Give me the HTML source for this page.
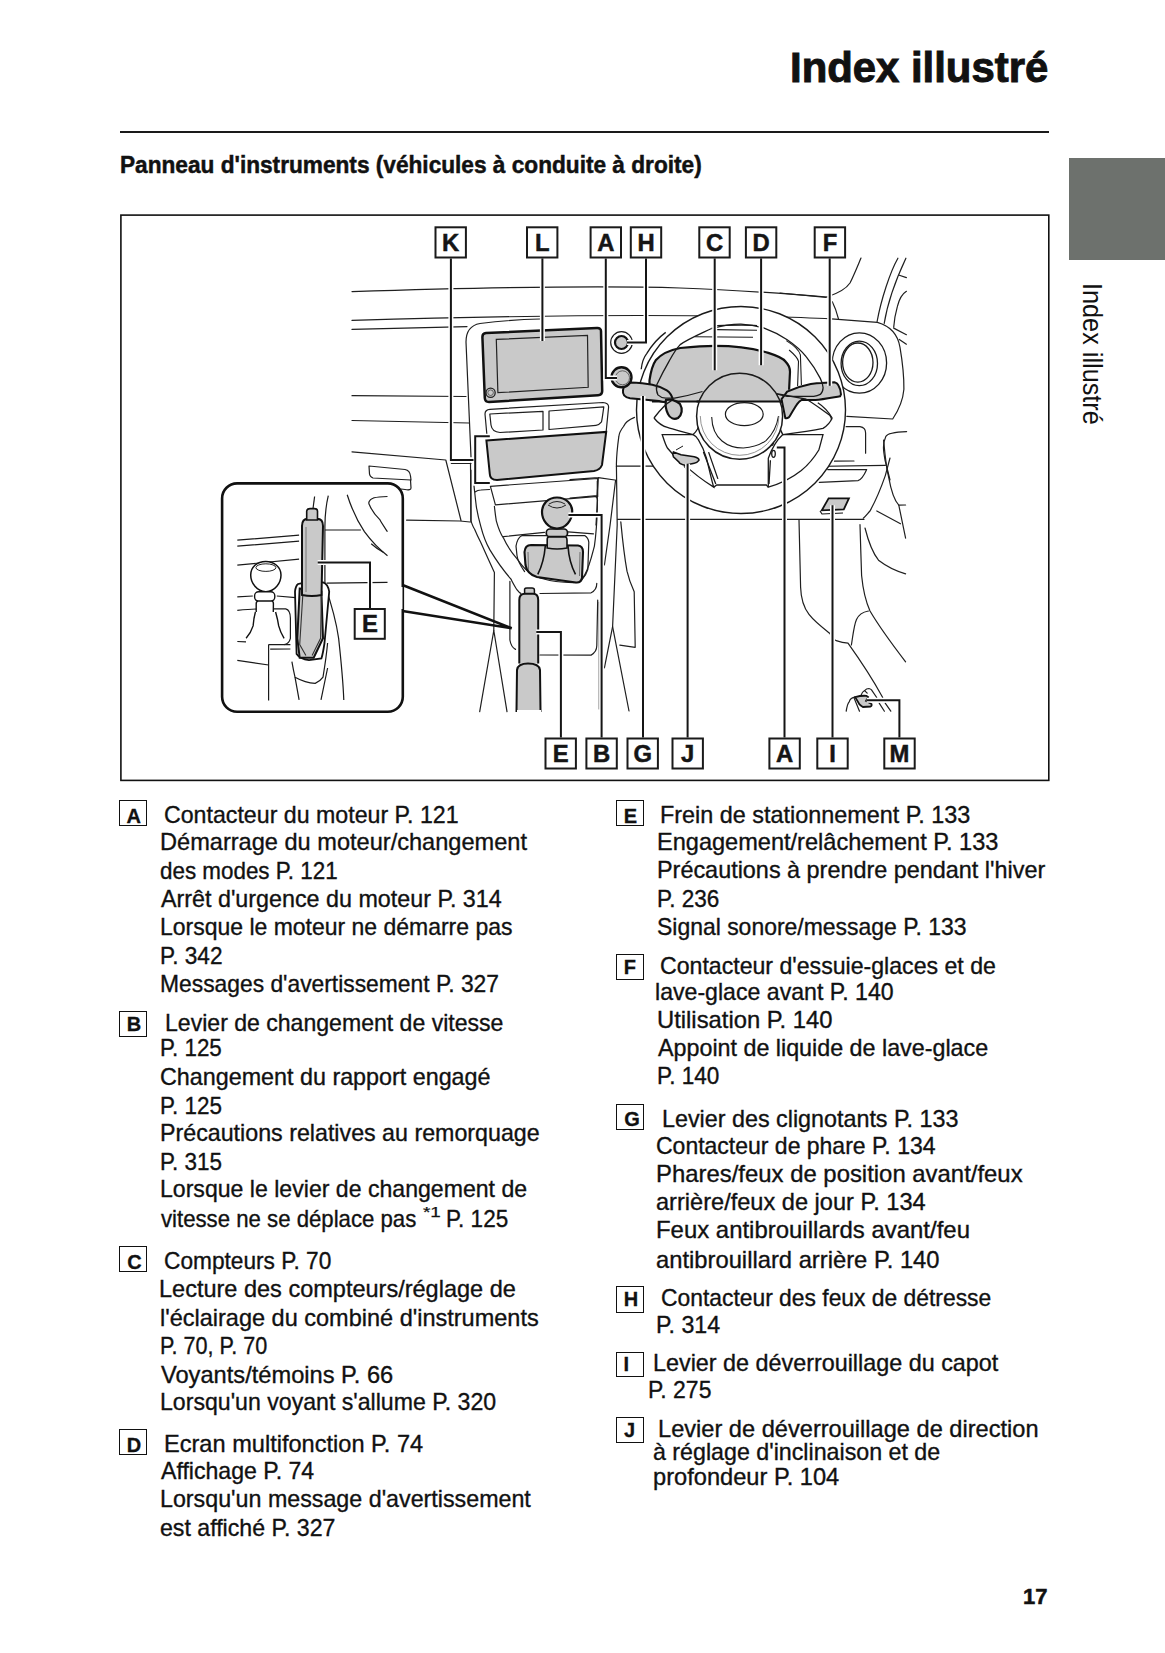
<!DOCTYPE html>
<html><head><meta charset="utf-8">
<style>
html,body{margin:0;padding:0;background:#fff;}
body{width:1165px;height:1653px;position:relative;overflow:hidden;font-family:"Liberation Sans",sans-serif;color:#111;}
.t{position:absolute;white-space:nowrap;transform-origin:0 0;}
.bx{position:absolute;border:1.5px solid #111;box-sizing:border-box;}
.bl{position:absolute;font-weight:bold;font-size:20px;line-height:20px;color:#111;white-space:nowrap;-webkit-text-stroke:0.3px #111;}
.rule{position:absolute;left:120px;top:131px;width:929px;height:2px;background:#1a1a1a;}
.tab{position:absolute;left:1069px;top:157.5px;width:96px;height:102.5px;background:#6d716d;}
</style></head><body>
<div class="rule"></div>
<div class="tab"></div>
<svg width="1165" height="1653" style="position:absolute;left:0;top:0">
<style>.lb{font-family:"Liberation Sans",sans-serif;font-weight:bold;font-size:23.8px;text-anchor:middle;fill:#151515;stroke:#151515;stroke-width:0.5px}</style>
<rect x="120.9" y="215.1" width="927.9" height="565.3" fill="none" stroke="#111" stroke-width="1.6"/>
<g fill="none" stroke="#1f1f1f" stroke-width="1.2" stroke-linecap="round" stroke-linejoin="round">
<path d="M352,291.6 C450,288.5 600,285.5 680,288 C740,290 790,294 827,297"/>
<path d="M827,297 C836,294 846,289 850,283 C854,275 858,265 861,258"/>
<path d="M352,320.4 C470,317 560,315.5 640,315.5 C720,315.5 790,316.5 832,319"/>
<path d="M352,329.4 L467,326.6"/>
<path d="M352,395.7 L466,396.5"/>
<path d="M352,420.5 L469,423"/>
<path d="M352,451.8 L445.8,460 L461,520.5"/>
<path d="M451.3,463.5 L471,463.5"/>
<path d="M406.6,520.2 L460,521 L470,522"/>
<path d="M471,457 L466,342 Q466,326 480,323.5 C500,321 520,319.5 540,319"/>
<path d="M470.5,463 L471,522"/>
<path d="M369,466 L405,469.5 Q410,470.5 410.5,476 L411,480 L373,478 Q370,477 369.5,474 Z"/>
<path d="M410.5,480 L411,488 Q411,490.5 405,489.5 L401,489"/>
<path d="M487,436 L485,414 Q485,409.6 490,409.3 L603,402.5 Q608.6,402.9 608.6,407 L606.2,431.2"/>
<path d="M489.8,414 L543,411.3 L543,430 L500,432.5 Q492,432 491,425 Z"/>
<path d="M549,411 L603.8,406.8 Q602,420 601.5,421.8 Q599,425 596,425.3 L549,429.5 Z"/>
<path d="M490.4,486.3 L597.7,478.5 L597.7,496.4 L495.4,504.9 Z"/>
<path d="M475.4,491.8 C477,490.5 479,490 480.8,490 L489.5,489.5"/>
<path d="M474,485.9 C475,495 475.5,500 476.3,506.3 C477.5,514 479,520 480.8,526.3 C483,535 486,543 489.9,549.9 C496,560 503,570 510.8,578.9 C513,583 515,587 517.1,589.8 C518,591 519,592.5 520.8,593.4"/>
<path d="M540,593.5 L591.1,592.8 Q596.8,590 596.8,583.3"/>
<path d="M470.9,470 L470.9,520.8 C472,524 473,527 474.5,529 C477,535 479,539 480.8,542.6 C485,552 490,563 494.4,572.5 L493.8,630.5"/>
<path d="M494.4,506.3 C495,512 495.5,516 496.3,520.8 C498,527 500,533 503.5,538.1 C507,546 512,553 517.1,558.9 C520,563 523,567 526.2,569.8 C530,573 535,576 540,578 C550,581 565,583 578.4,582.5 C581,581 583,578 585,574.4 C590,565 592,555 594.4,546.1 C596,535 597,520 597.3,508.3 L597.3,481"/>
<path d="M503.5,536.7 L544.4,532.4 M568,531.9 L593.5,533.8"/>
<path d="M524.6,571.6 C520,565 517.5,560 517,555.5 L516,546.1 C517,540 519,537 521.7,535.7 L585,535.7 C587,537 588.5,539 588.8,542.3 L587.8,569.7 C586.5,574 584.5,577 582.2,579.2"/>
<path d="M509.9,581.4 L509.9,640 Q511,647 515.5,649.4 M540,655 L591.1,655.1 Q596.8,652 596.8,645.6 L597.7,600"/>
<path d="M479.7,711.7 L493.8,630.5 L507,711.7"/>
<path d="M598.3,477.6 L614.8,480 M570,479.6 L598.3,477.6 L597.1,495.7 L570,498 M595.2,496.1 Q597.5,497 597.5,500 L596,525"/>
<path d="M634.5,417.4 C628,420 625,423 623.5,426.5 C620,431 619,434 618.8,436.7 C617,450 616.5,458 616.4,464.2 L617.2,525 L612.6,626.7 L604.4,667.8"/>
<path d="M615.6,480 L610.1,525 L604.4,565"/>
<path d="M612.6,626.7 L629,711"/>
<path d="M616.4,466.2 H653.7"/>
<path d="M617.5,519.3 H864"/>
<path d="M620.8,521.9 C623,545 625,560 627,571.2 C629,580 632,587 634.2,591.8 L635.2,647.3 L619.8,645.2"/>
<path d="M599.3,602 L599.3,709"/>
<path d="M826,297.3 L780,293"/>
<path d="M831.5,318.9 L877.4,322.4 C890,326 898,335 900,347.4 C903,365 904,380 903.9,389.2 C903,400 900,408 892.7,419 L846.8,416.3"/>
<path d="M897.9,258.2 C890,272 881,300 877.1,321.5 M905.9,258.2 C898,275 888,300 884.2,323.4 M906.4,291.3 C902,294 899,300 897.4,306.4 C895,315 894,322 893.7,327.2"/>
<path d="M899.3,275.2 L906.4,277.6"/>
<path d="M832.3,301.7 C835,307 837,313 838.4,318.7"/>
<path d="M893.7,328.1 L906.4,334.7 M899.3,339.4 L906.4,344.2"/>
<path d="M906.6,431.6 C895,432 887,434 885.8,436.5 C882,445 883.7,451.8 885,460 L890,480"/>
<path d="M777,467 L885.3,465.4"/>
<path d="M834.5,461.2 L854,461"/>
<path d="M846.1,426.7 L860,426.7 Q865.6,427.5 865.6,433 L865.6,453.2"/>
<path d="M827.7,469.6 L866.7,469.6 Q862,480 858,480.6 L819.3,482.3"/>
<path d="M863.3,518.2 C866,516 868,513 870,511 C876,500 881,488 885.3,475.6 L890,458"/>
<path d="M799,520 C799.5,545 800,570 800.6,587.3 C801,600 804,608 809,614.4 C815,622 823,628 829.4,633 C832,637 834,640 836.2,640.6 C840,642 844,643 848,643.2 C860,660 872,678 882.7,697.5"/>
<path d="M860,524.7 C860.5,540 861,560 861.6,575.5 C863,590 866,602 870,611 C880,628 895,648 905.6,661.8"/>
<path d="M865,528 C868,540 872,552 878.5,560.2 C886,566 896,571 905.6,573.8"/>
<path d="M851.4,645 C853,635 854,625 856.5,619.5 C859,614 863,612 868.4,611"/>
<path d="M883.6,440 C885,455 886,467 888.7,477.3 C891,490 894,500 898.8,505.2 L905.6,505"/>
<path d="M876.8,511 L900.5,523.8"/>
<path d="M898.8,505.2 L905.6,538.2"/>
<path d="M846.2,711.2 C847,706 848,703 849.2,701.8 C850,699 851,697.5 855.2,697.1 M854.3,698.4 L859.5,711.2"/>
<path d="M861.2,694.9 C862,692.5 863,691.5 864.6,690.6 C866,689 867.5,688.5 868.9,688.5 C870,688.8 871,689.2 871.5,689.8 L876.7,697.5 M864.6,690.6 L867.2,693.2"/>
<path d="M879.2,703.1 L884.4,711.2 M885.2,703.1 L890.8,711.2"/>
</g>

<!-- vent rings (behind wheel) -->
<g fill="none" stroke="#1a1a1a" stroke-width="1.3">
<ellipse cx="859.4" cy="363" rx="27.2" ry="30.2"/>
<ellipse cx="859.3" cy="363.4" rx="18.2" ry="22.3"/>
<ellipse cx="857.8" cy="362.6" rx="15.2" ry="19.6"/>
<path d="M641.2,369.2 C642,362 644,357 646.7,353.6 C652,345 658,338 665.7,332.4"/>
</g>
<!-- wheel outer rim band: white -->
<ellipse cx="741" cy="410" rx="104.5" ry="103.5" fill="#fff" stroke="#1a1a1a" stroke-width="1.4"/>
<!-- hood lines -->
<g fill="none" stroke="#1a1a1a" stroke-width="1.1">
<path d="M717,325.5 C735,325 750,325 757,325.5"/>
<path d="M717,329.6 L757,330.2"/>
<path d="M694.7,336.8 L753,337.3"/>
<path d="M789.1,350 C795,355 798,359 798.5,361.4 L797.6,385.9"/>
<path d="M786.3,340.6 C795,346 799,350 800.4,354.8 L801.4,385"/>
</g>
<!-- gauge gray -->
<path d="M649.5,401.5 L649.5,380.4 C651,370 653,364 655.7,360.3 C662,353 670,350 680.2,348 C695,346.5 705,345.8 714.8,345.8 C735,345.8 750,347 768.3,352.9 C778,356 783,358 785.3,361.4 C789,365 790,368 790,371.8 L789.1,389.7 L788.2,401.5 Z" fill="#c9c9c9" stroke="none"/>
<path d="M649.5,388 L649.5,380.4 C651,370 653,364 655.7,360.3 C662,353 670,350 680.2,348 C695,346.5 705,345.8 714.8,345.8 C735,345.8 750,347 768.3,352.9 C778,356 783,358 785.3,361.4 C789,365 790,368 790,371.8 L789.1,389.7" fill="none" stroke="#111" stroke-width="2.2"/>
<path d="M652,401.5 L790,401.5" stroke="#111" stroke-width="2.2"/>
<!-- stalks -->
<path d="M630,382.6 C640,383 648,384 652.3,384.8 C658,386 663,388 666.8,390.4 C670,392.5 672,396 673,400 L664,402 C662,401.5 660,401.2 659,401 L630,398.2 Q622,397 623,390 Q624,383 630,382.6 Z" fill="#c9c9c9" stroke="#111" stroke-width="2"/>
<path d="M666,400 C670,399 676,400 680,404 C683,409 682,415 678,418 C674,420 670,418 668,414 C666,410 665,405 666,400 Z" fill="#c9c9c9" stroke="#111" stroke-width="2.2"/>
<path d="M787.2,391.6 C795,388 803,385.5 810.8,384 C815,383.5 818,383.2 821.2,383.1 L834.4,382.2 C836,382.5 837.5,383.5 838.2,385 C840,388 841,391 841,394.4 L840.1,396.3 C830,398 822,399.5 815.5,400.1 L801.4,400.1 C799,401 798,403 796.7,404.8 C794,409 791,414 789.1,417.1 C787,418.5 786,418.3 785.3,418 L781.5,399.2 Z" fill="#c9c9c9" stroke="#111" stroke-width="2"/>
<!-- wheel inner rim lines -->
<g fill="none" stroke="#1a1a1a" stroke-width="1.3">
<path d="M711.5,328.5 C700,334 688,339 680.2,344.6 C675,350 672,356 669,361.4 C664,370 660,378 656.8,384.8 C656,389 656.5,392 657.9,394.9 C660,397 663,398 665.7,398.2 L674.6,398.2 C684,396.5 694,394 702.5,391.5"/>
<path d="M711.5,328.5 C725,325 735,324 741,324.1 C750,324.5 757,326 763.6,327.9 C772,331 780,335 787.2,339.7 C795,345 801,350 806.1,356.7 C812,364 817,372 820.3,378.4 C822,382 823,385 823.1,387.8 C823,391 822,393 820.3,394.4 C818,395.5 816,396 813.7,396.3 L787.2,396.3 C782,395.5 778,394.5 775,393.5"/>
<path d="M775,393.5 C790,396 800,398 806.1,399.2 C815,404 822,410 829.7,415.2 C831,417 831.5,418 831.6,420"/>
<path d="M654,418 C660,410 665,404 671.5,400.6"/>
<path d="M654,418 C658,423 662,426 667.4,427.4 C676,430 685,433 693.1,434.6 C697,431 699,427 699.3,423.3 L699.3,404.7 C700,400 702,395 704.5,392.4"/>
<path d="M832.2,418 C828,411 823,406 817.8,402.7"/>
<path d="M832.2,418 C830,423 827,426 823,428.4 C810,431 795,433 782.8,434.6 C780,430 779,426 778.6,421.2"/>
<path d="M662.2,434.6 C664,440 665.5,445 667.4,448 C672,454 676,458 681.8,462.4 C692,472 702,480 713.7,487.1 C711,478 709,468 706.5,458.3 C704,450 701,444 698.3,439.7 C697,437 695,435.5 693.1,434.6 Z"/>
<path d="M823,434.6 C821.5,440 820,446 818.8,450 C814,458 808,465 801.3,470.6 C792,478 780,484 768.3,487.1 L768.3,458.3 C772,448 777,440 782.8,434.6 Z"/>
<path d="M713.7,487.1 L716.8,485 L766.3,485 L768.3,487.1"/>
<path d="M703.4,452.1 L715.8,484 M708.6,452.1 L717.9,478.9 M770.4,460.3 L769,484"/>
<ellipse cx="771.6" cy="440.6" rx="2" ry="5"/>
<ellipse cx="773.5" cy="453.8" rx="1.8" ry="3.5"/>
</g>
<!-- hub -->
<circle cx="739.6" cy="416.2" r="43" fill="#fff" stroke="none"/>
<path d="M699.2,401.5 A43,43 0 0 1 780,401.5 Z" fill="#c9c9c9" stroke="none"/>
<path d="M696.6,401.5 L782.6,401.5" stroke="#111" stroke-width="2.2"/>
<circle cx="739.6" cy="416.2" r="43" fill="none" stroke="#1a1a1a" stroke-width="1.5"/>
<g fill="none" stroke="#1a1a1a" stroke-width="1.1">
<path d="M711.7,417 C712,428 716,436 722,441 C728,446 735,448 743.3,448 C752,447.5 760,445 766,440.6 C773,434 777,426 778.5,416"/>
<path d="M700.3,416 A39,39 0 0 0 778.9,416" stroke="#777" stroke-width="0.8"/>
</g>
<ellipse cx="744.3" cy="414.2" rx="18.9" ry="11.5" fill="none" stroke="#1a1a1a" stroke-width="1.2"/>
<!-- J lever -->
<path d="M673.4,451.9 L681,454.8 L694.2,456.7 Q699.5,458 698.9,460.4 Q697,463 694.2,463.3 L684.8,465.2 Q680,464 679.1,462.3 L673.4,456.7 Q672,454 673.4,451.9 Z" fill="#c9c9c9" stroke="#111" stroke-width="1.6"/>
<path d="M676,450 L683,446 M684,466 L690,476" fill="none" stroke="#1a1a1a" stroke-width="1"/>
<!-- hood release -->
<path d="M828.6,498.4 L848.9,498.4 L843.8,509.4 L821.8,510.3 Z" fill="#c9c9c9" stroke="#111" stroke-width="1.8"/>
<path d="M820,511 L822,514 L843,513" fill="none" stroke="#111" stroke-width="1.2"/>
<!-- M pedal -->
<path d="M855.2,697.1 C859,696 862,695.5 866.4,695.8 L868.1,697.1 L866,701 L871.5,704 Q872,706 870.6,706.5 L862.9,707 Q861,706 859.5,704.4 Z" fill="#c9c9c9" stroke="#111" stroke-width="1.8"/>
<!-- screen -->
<path d="M486,333 L597,328 Q601,327.8 601,331 L602.2,391 Q602.2,395 598,395.2 L489,402 Q485,402 484.8,398 L482.4,337 Q482.4,333.2 486,333 Z" fill="#c9c9c9" stroke="#111" stroke-width="2.5"/>
<path d="M496.3,339.4 L587.5,335.5 L588.2,387.3 L497.9,392.7 Z" fill="none" stroke="#222" stroke-width="1.2"/>
<circle cx="490.6" cy="392.7" r="4.6" fill="none" stroke="#222" stroke-width="1.3"/>
<circle cx="490.6" cy="392.7" r="2.8" fill="none" stroke="#444" stroke-width="0.8"/>
<!-- AC panel -->
<path d="M486.4,440.5 L606.2,431.9 L602,465 Q600,470 594,471 L497,480 Q490,480 489.8,474 Z" fill="#c9c9c9" stroke="#111" stroke-width="2"/>
<!-- buttons -->
<circle cx="621.5" cy="342.5" r="10.8" fill="#fff" stroke="#1a1a1a" stroke-width="1.2"/>
<circle cx="621.5" cy="342.5" r="6.5" fill="#c9c9c9" stroke="#111" stroke-width="2.2"/>
<circle cx="621.5" cy="377.3" r="10" fill="#c9c9c9" stroke="#111" stroke-width="2.4"/>
<circle cx="622.5" cy="377.8" r="7" fill="none" stroke="#555" stroke-width="0.9"/>
<!-- gear -->
<path d="M531,545 L578,545.5 Q583,546 583,552 L582,578 Q581,583 576,582.5 L537,577 Q527,574 525.5,565 L524.5,552 Q525,545 531,545 Z" fill="#c9c9c9" stroke="#111" stroke-width="2.1"/>
<path d="M528,552 L528.5,570 M580,552 L579.5,576" fill="none" stroke="#555" stroke-width="0.8"/>
<path d="M537.8,574.4 Q544,562 545.3,546 M575.5,574.4 Q569,562 568,546" fill="none" stroke="#111" stroke-width="1.6"/>
<path d="M547.2,548 L547.2,540 Q547,537 549,536.7 L565,536.7 Q567,537 567,540 L567,548 Q557,550 547.2,548 Z" fill="#c9c9c9" stroke="#111" stroke-width="1.6"/>
<rect x="546.3" y="529" width="21.2" height="7.7" rx="3.5" fill="#c9c9c9" stroke="#111" stroke-width="1.7"/>
<path d="M557,497.5 C566,497.5 572.5,504 572.2,512 C572,520 566,528.6 557,528.6 C548,528.6 542,520 542,512 C542,504 548,497.5 557,497.5 Z" fill="#c9c9c9" stroke="#111" stroke-width="2.2"/>
<path d="M548,505 Q557,511 566,505 M549,504 Q557,499 565,504" fill="none" stroke="#222" stroke-width="1"/>
<!-- handbrake main -->
<path d="M524.6,594 L524.6,589 Q525,588 527,588 L532,588 Q534.4,588 534.4,590 L534.4,594 Z" fill="#c9c9c9" stroke="#111" stroke-width="1.5"/>
<path d="M519.3,663.6 L519.3,600 Q519.3,593.7 525,593.7 L533,593.7 Q538.2,593.7 538.2,600 L538.2,663.6" fill="#c9c9c9" stroke="#111" stroke-width="2"/>
<path d="M516.5,711 L517,670 Q518,663.6 528,663.6 Q539,663.6 540,670 L540.5,711 Z" fill="#c9c9c9" stroke="#111" stroke-width="2"/>
<path d="M517,711 L541,711" stroke="#fff" stroke-width="2"/>


<rect x="222.1" y="483.4" width="180.7" height="228.3" rx="15" fill="#fff" stroke="#111" stroke-width="2.6"/>
<path d="M402.5,585 L511.7,628.3 L402.5,611" fill="none" stroke="#111" stroke-width="2.6"/>
<path d="M401,587 L401,609" stroke="#fff" stroke-width="3"/>
<g fill="none" stroke="#1a1a1a" stroke-width="1.2">
 <path d="M237.3,540.2 L299.1,535.1 M237.3,546.2 L299.1,541.1"/>
 <path d="M237.3,565.1 L299.1,559.1"/>
 <path d="M237.3,596.9 L252.8,596 M276.8,596 L295.7,597.7"/>
 <path d="M237.3,660.4 L268.6,665"/>
 <path d="M237.3,610.4 Q250,609 257,609 M274,608.8 L285.7,608.8 Q290.4,610 290.4,618.2 L290.4,638.3 Q289,644 284.1,644.6 M237.3,641.5 L246,641.8"/>
 <path d="M295,677.2 L299.1,699.9 M321,699.9 L327.6,668"/>
 <path d="M314.6,496.5 L312.9,509.3"/>
 <path d="M328.3,495.6 C326,505 325,515 324.9,526.5 L324.9,584.9 C330,600 336,620 338.6,638.1 C341,660 343,680 343.8,699.9"/>
 <path d="M347.2,494.7 C352,510 358,522 364.4,531.7 C372,542 380,550 387.5,555.7"/>
 <path d="M387.5,496.5 C380,497 375,497 372.9,498.2 C369,500 368,503 369.5,505 C372,511 376,516 379.8,519.6 C382,524 385,528 387.5,531.7"/>
 <path d="M371.2,543.7 C375,547 379,550 383.2,552.3"/>
 <path d="M324.9,530 L360.9,530 M326.6,583.2 L387.5,582.3"/>
</g>
<path d="M265.8,561.5 C274,561.5 281,567 281,575 C281,583 275,591.7 265.8,591.7 C257,591.7 250.7,583 250.7,575 C250.7,567 257,561.5 265.8,561.5 Z" fill="#fff" stroke="#111" stroke-width="1.5"/>
<ellipse cx="265.9" cy="567.6" rx="10" ry="3.8" fill="none" stroke="#222" stroke-width="1"/>
<rect x="254.6" y="591.7" width="20.2" height="9.4" rx="4" fill="#fff" stroke="#111" stroke-width="1.4"/>
<path d="M256.2,612 L256.2,604 Q256,601.5 258,601.1 L272,601.1 Q273.6,601.5 273.4,604 L273.3,612" fill="#fff" stroke="#111" stroke-width="1.4"/>
<path d="M255.4,612 C254,617 253.5,621 253.1,625.9 C251.5,631 249,635 246.1,638.3 M275.6,612 C277,617 278,621 278.7,625.9 C280,631 282,635 284.1,638.3" fill="none" stroke="#111" stroke-width="1.4"/>
<g fill="none" stroke="#1a1a1a" stroke-width="1.2">
<path d="M268.6,644.6 L268.6,700.5 M268.6,644.6 L290.4,644.6 M270.2,649.2 L290.4,649"/>
<path d="M291.9,661.7 C293,668 294,673 295,677.2 C302,681 308,683 315.2,683.4 C319,682 321,680 323,677.2 C325,665 326.5,655 327.6,643"/>
</g>
<!-- inset handbrake boot -->
<path d="M298.1,584 Q304,582 323,582.4 Q328,584 329.2,591.7 L324.5,643 C323.5,650 322.5,655 321.4,658.5 L309,660.1 Q300,659 296.6,653.9 L295,591.7 Q295.5,586 298.1,584 Z" fill="#fff" stroke="#111" stroke-width="1.8"/>
<path d="M299.7,588.6 L321.4,591.7 L323,638.3 L313.7,657.8 L299.7,657.8 L297.3,638.3 Z" fill="#c9c9c9" stroke="#111" stroke-width="2"/>
<path d="M302.8,594.9 L299.7,644.6 L305.9,655.4 M321.4,594.9 L320.6,638.3 L312.1,655.4" fill="none" stroke="#333" stroke-width="1.1"/>
<!-- inset lever -->
<path d="M302,594.9 L302,526 Q302,518.7 308,518.7 L317,518.7 Q323,518.7 323,526 L321.5,594.9 Q312,597 302,594.9 Z" fill="#c9c9c9" stroke="#111" stroke-width="2"/>
<path d="M306.7,520 L306.7,511 Q307,508.6 310,508.6 L314.5,508.6 Q317.5,508.6 317.5,511 L317.5,520 Z" fill="#c9c9c9" stroke="#111" stroke-width="1.6"/>
<path d="M306,527 L306,592" stroke="#666" stroke-width="0.8"/>

<g fill="none" stroke="#fff" stroke-width="5">
<path d="M450.9,258.4 V460 H473.5"/>
<path d="M489.8,436.2 H475.2 V482.9 H489.8"/>
<path d="M542.4,258.4 V341"/>
<path d="M605.8,258.4 V378 H617"/>
<path d="M646,258.4 V342.5 H627"/>
<path d="M714.7,258.4 V370.3"/>
<path d="M761.1,258.4 V365.2"/>
<path d="M829.7,258.4 V385.8"/>
<path d="M560.9,737.5 V632 H536.3"/>
<path d="M601.6,737.5 V515 H568.4"/>
<path d="M643,737.5 V396"/>
<path d="M687.6,737.5 V463.8"/>
<path d="M784.5,737.5 V447.5 H776.8"/>
<path d="M832.5,737.5 V505.2"/>
<path d="M899.4,737.5 V700.3 H866.7"/>
<path d="M370,608 V562.6 H317.7"/>
</g><g fill="none" stroke="#151515" stroke-width="2">
<path d="M450.9,258.4 V460 H473.5"/>
<path d="M489.8,436.2 H475.2 V482.9 H489.8"/>
<path d="M542.4,258.4 V341"/>
<path d="M605.8,258.4 V378 H617"/>
<path d="M646,258.4 V342.5 H627"/>
<path d="M714.7,258.4 V370.3"/>
<path d="M761.1,258.4 V365.2"/>
<path d="M829.7,258.4 V385.8"/>
<path d="M560.9,737.5 V632 H536.3"/>
<path d="M601.6,737.5 V515 H568.4"/>
<path d="M643,737.5 V396"/>
<path d="M687.6,737.5 V463.8"/>
<path d="M784.5,737.5 V447.5 H776.8"/>
<path d="M832.5,737.5 V505.2"/>
<path d="M899.4,737.5 V700.3 H866.7"/>
<path d="M370,608 V562.6 H317.7"/>
</g>
<rect x="435.5" y="227.3" width="30.4" height="30.2" fill="#fff" stroke="#1a1a1a" stroke-width="2"/>
<text x="450.7" y="250.8" class="lb">K</text>
<rect x="527.0" y="227.3" width="30.4" height="30.2" fill="#fff" stroke="#1a1a1a" stroke-width="2"/>
<text x="542.2" y="250.8" class="lb">L</text>
<rect x="590.6" y="227.3" width="30.4" height="30.2" fill="#fff" stroke="#1a1a1a" stroke-width="2"/>
<text x="605.8" y="250.8" class="lb">A</text>
<rect x="630.8" y="227.3" width="30.4" height="30.2" fill="#fff" stroke="#1a1a1a" stroke-width="2"/>
<text x="646.0" y="250.8" class="lb">H</text>
<rect x="699.3" y="227.3" width="30.4" height="30.2" fill="#fff" stroke="#1a1a1a" stroke-width="2"/>
<text x="714.5" y="250.8" class="lb">C</text>
<rect x="745.9" y="227.3" width="30.4" height="30.2" fill="#fff" stroke="#1a1a1a" stroke-width="2"/>
<text x="761.1" y="250.8" class="lb">D</text>
<rect x="814.7" y="227.3" width="30.4" height="30.2" fill="#fff" stroke="#1a1a1a" stroke-width="2"/>
<text x="829.9" y="250.8" class="lb">F</text>
<rect x="545.5" y="738.5" width="30.4" height="30.0" fill="#fff" stroke="#1a1a1a" stroke-width="2"/>
<text x="560.7" y="761.7" class="lb">E</text>
<rect x="586.4" y="738.5" width="30.4" height="30.0" fill="#fff" stroke="#1a1a1a" stroke-width="2"/>
<text x="601.6" y="761.7" class="lb">B</text>
<rect x="627.5" y="738.5" width="30.4" height="30.0" fill="#fff" stroke="#1a1a1a" stroke-width="2"/>
<text x="642.7" y="761.7" class="lb">G</text>
<rect x="672.5" y="738.5" width="30.4" height="30.0" fill="#fff" stroke="#1a1a1a" stroke-width="2"/>
<text x="687.7" y="761.7" class="lb">J</text>
<rect x="769.4" y="738.5" width="30.4" height="30.0" fill="#fff" stroke="#1a1a1a" stroke-width="2"/>
<text x="784.6" y="761.7" class="lb">A</text>
<rect x="817.3" y="738.5" width="30.4" height="30.0" fill="#fff" stroke="#1a1a1a" stroke-width="2"/>
<text x="832.5" y="761.7" class="lb">I</text>
<rect x="884.3" y="738.5" width="30.4" height="30.0" fill="#fff" stroke="#1a1a1a" stroke-width="2"/>
<text x="899.5" y="761.7" class="lb">M</text>
<rect x="354.7" y="609" width="30.1" height="29.8" fill="#fff" stroke="#1a1a1a" stroke-width="2"/>
<text x="369.9" y="632.2" class="lb">E</text>
</svg>
<div class="t" style="left:164.13px;top:803.18px;font-size:24.0px;line-height:24.0px;font-weight:normal;-webkit-text-stroke:0.35px #111;transform:scaleX(0.9656)">Contacteur du moteur P. 121</div>
<div class="t" style="left:159.72px;top:829.88px;font-size:24.0px;line-height:24.0px;font-weight:normal;-webkit-text-stroke:0.35px #111;transform:scaleX(0.9824)">Démarrage du moteur/changement</div>
<div class="t" style="left:159.57px;top:858.88px;font-size:24.0px;line-height:24.0px;font-weight:normal;-webkit-text-stroke:0.35px #111;transform:scaleX(0.9333)">des modes P. 121</div>
<div class="t" style="left:160.50px;top:886.88px;font-size:24.0px;line-height:24.0px;font-weight:normal;-webkit-text-stroke:0.35px #111;transform:scaleX(0.9707)">Arrêt d&#x27;urgence du moteur P. 314</div>
<div class="t" style="left:159.54px;top:914.78px;font-size:24.0px;line-height:24.0px;font-weight:normal;-webkit-text-stroke:0.35px #111;transform:scaleX(0.9572)">Lorsque le moteur ne démarre pas</div>
<div class="t" style="left:159.56px;top:943.88px;font-size:24.0px;line-height:24.0px;font-weight:normal;-webkit-text-stroke:0.35px #111;transform:scaleX(0.9423)">P. 342</div>
<div class="t" style="left:159.55px;top:971.78px;font-size:24.0px;line-height:24.0px;font-weight:normal;-webkit-text-stroke:0.35px #111;transform:scaleX(0.9513)">Messages d&#x27;avertissement P. 327</div>
<div class="t" style="left:164.74px;top:1011.18px;font-size:24.0px;line-height:24.0px;font-weight:normal;-webkit-text-stroke:0.35px #111;transform:scaleX(0.9608)">Levier de changement de vitesse</div>
<div class="t" style="left:159.77px;top:1036.38px;font-size:24.0px;line-height:24.0px;font-weight:normal;-webkit-text-stroke:0.35px #111;transform:scaleX(0.9316)">P. 125</div>
<div class="t" style="left:159.53px;top:1064.98px;font-size:24.0px;line-height:24.0px;font-weight:normal;-webkit-text-stroke:0.35px #111;transform:scaleX(0.9714)">Changement du rapport engagé</div>
<div class="t" style="left:159.57px;top:1093.68px;font-size:24.0px;line-height:24.0px;font-weight:normal;-webkit-text-stroke:0.35px #111;transform:scaleX(0.9346)">P. 125</div>
<div class="t" style="left:159.53px;top:1120.78px;font-size:24.0px;line-height:24.0px;font-weight:normal;-webkit-text-stroke:0.35px #111;transform:scaleX(0.9681)">Précautions relatives au remorquage</div>
<div class="t" style="left:159.57px;top:1150.38px;font-size:24.0px;line-height:24.0px;font-weight:normal;-webkit-text-stroke:0.35px #111;transform:scaleX(0.9346)">P. 315</div>
<div class="t" style="left:159.54px;top:1177.48px;font-size:24.0px;line-height:24.0px;font-weight:normal;-webkit-text-stroke:0.35px #111;transform:scaleX(0.9620)">Lorsque le levier de changement de</div>
<div class="t" style="left:160.50px;top:1206.68px;font-size:24.0px;line-height:24.0px;font-weight:normal;-webkit-text-stroke:0.35px #111;transform:scaleX(0.9244)">vitesse ne se déplace pas</div>
<div class="t" style="left:445.86px;top:1206.68px;font-size:24.0px;line-height:24.0px;font-weight:normal;-webkit-text-stroke:0.35px #111;transform:scaleX(0.9377)">P. 125</div>
<div class="t" style="left:164.25px;top:1249.48px;font-size:24.0px;line-height:24.0px;font-weight:normal;-webkit-text-stroke:0.35px #111;transform:scaleX(0.9451)">Compteurs P. 70</div>
<div class="t" style="left:159.12px;top:1276.88px;font-size:24.0px;line-height:24.0px;font-weight:normal;-webkit-text-stroke:0.35px #111;transform:scaleX(0.9797)">Lecture des compteurs/réglage de</div>
<div class="t" style="left:159.52px;top:1306.08px;font-size:24.0px;line-height:24.0px;font-weight:normal;-webkit-text-stroke:0.35px #111;transform:scaleX(0.9793)">l&#x27;éclairage du combiné d&#x27;instruments</div>
<div class="t" style="left:159.60px;top:1334.48px;font-size:24.0px;line-height:24.0px;font-weight:normal;-webkit-text-stroke:0.35px #111;transform:scaleX(0.8992)">P. 70, P. 70</div>
<div class="t" style="left:160.50px;top:1362.78px;font-size:24.0px;line-height:24.0px;font-weight:normal;-webkit-text-stroke:0.35px #111;transform:scaleX(0.9853)">Voyants/témoins P. 66</div>
<div class="t" style="left:159.54px;top:1390.18px;font-size:24.0px;line-height:24.0px;font-weight:normal;-webkit-text-stroke:0.35px #111;transform:scaleX(0.9632)">Lorsqu&#x27;un voyant s&#x27;allume P. 320</div>
<div class="t" style="left:164.22px;top:1431.68px;font-size:24.0px;line-height:24.0px;font-weight:normal;-webkit-text-stroke:0.35px #111;transform:scaleX(0.9826)">Ecran multifonction P. 74</div>
<div class="t" style="left:160.50px;top:1459.08px;font-size:24.0px;line-height:24.0px;font-weight:normal;-webkit-text-stroke:0.35px #111;transform:scaleX(0.9616)">Affichage P. 74</div>
<div class="t" style="left:159.53px;top:1487.38px;font-size:24.0px;line-height:24.0px;font-weight:normal;-webkit-text-stroke:0.35px #111;transform:scaleX(0.9690)">Lorsqu&#x27;un message d&#x27;avertissement</div>
<div class="t" style="left:159.54px;top:1515.78px;font-size:24.0px;line-height:24.0px;font-weight:normal;-webkit-text-stroke:0.35px #111;transform:scaleX(0.9641)">est affiché P. 327</div>
<div class="t" style="left:660.43px;top:803.18px;font-size:24.0px;line-height:24.0px;font-weight:normal;-webkit-text-stroke:0.35px #111;transform:scaleX(0.9745)">Frein de stationnement P. 133</div>
<div class="t" style="left:657.22px;top:829.98px;font-size:24.0px;line-height:24.0px;font-weight:normal;-webkit-text-stroke:0.35px #111;transform:scaleX(0.9814)">Engagement/relâchement P. 133</div>
<div class="t" style="left:657.22px;top:857.88px;font-size:24.0px;line-height:24.0px;font-weight:normal;-webkit-text-stroke:0.35px #111;transform:scaleX(0.9751)">Précautions à prendre pendant l&#x27;hiver</div>
<div class="t" style="left:657.26px;top:886.58px;font-size:24.0px;line-height:24.0px;font-weight:normal;-webkit-text-stroke:0.35px #111;transform:scaleX(0.9393)">P. 236</div>
<div class="t" style="left:657.24px;top:914.98px;font-size:24.0px;line-height:24.0px;font-weight:normal;-webkit-text-stroke:0.35px #111;transform:scaleX(0.9559)">Signal sonore/message P. 133</div>
<div class="t" style="left:659.54px;top:953.68px;font-size:24.0px;line-height:24.0px;font-weight:normal;-webkit-text-stroke:0.35px #111;transform:scaleX(0.9631)">Contacteur d&#x27;essuie-glaces et de</div>
<div class="t" style="left:654.84px;top:980.08px;font-size:24.0px;line-height:24.0px;font-weight:normal;-webkit-text-stroke:0.35px #111;transform:scaleX(0.9631)">lave-glace avant P. 140</div>
<div class="t" style="left:657.21px;top:1007.88px;font-size:24.0px;line-height:24.0px;font-weight:normal;-webkit-text-stroke:0.35px #111;transform:scaleX(0.9912)">Utilisation P. 140</div>
<div class="t" style="left:658.20px;top:1035.78px;font-size:24.0px;line-height:24.0px;font-weight:normal;-webkit-text-stroke:0.35px #111;transform:scaleX(0.9703)">Appoint de liquide de lave-glace</div>
<div class="t" style="left:657.26px;top:1064.18px;font-size:24.0px;line-height:24.0px;font-weight:normal;-webkit-text-stroke:0.35px #111;transform:scaleX(0.9393)">P. 140</div>
<div class="t" style="left:661.93px;top:1106.58px;font-size:24.0px;line-height:24.0px;font-weight:normal;-webkit-text-stroke:0.35px #111;transform:scaleX(0.9715)">Levier des clignotants P. 133</div>
<div class="t" style="left:656.34px;top:1133.98px;font-size:24.0px;line-height:24.0px;font-weight:normal;-webkit-text-stroke:0.35px #111;transform:scaleX(0.9579)">Contacteur de phare P. 134</div>
<div class="t" style="left:656.30px;top:1162.18px;font-size:24.0px;line-height:24.0px;font-weight:normal;-webkit-text-stroke:0.35px #111;transform:scaleX(0.9955)">Phares/feux de position avant/feux</div>
<div class="t" style="left:656.32px;top:1190.28px;font-size:24.0px;line-height:24.0px;font-weight:normal;-webkit-text-stroke:0.35px #111;transform:scaleX(0.9826)">arrière/feux de jour P. 134</div>
<div class="t" style="left:656.30px;top:1218.48px;font-size:24.0px;line-height:24.0px;font-weight:normal;-webkit-text-stroke:0.35px #111;transform:scaleX(0.9971)">Feux antibrouillards avant/feu</div>
<div class="t" style="left:656.31px;top:1247.88px;font-size:24.0px;line-height:24.0px;font-weight:normal;-webkit-text-stroke:0.35px #111;transform:scaleX(0.9900)">antibrouillard arrière P. 140</div>
<div class="t" style="left:661.25px;top:1285.88px;font-size:24.0px;line-height:24.0px;font-weight:normal;-webkit-text-stroke:0.35px #111;transform:scaleX(0.9519)">Contacteur des feux de détresse</div>
<div class="t" style="left:656.33px;top:1312.78px;font-size:24.0px;line-height:24.0px;font-weight:normal;-webkit-text-stroke:0.35px #111;transform:scaleX(0.9670)">P. 314</div>
<div class="t" style="left:652.63px;top:1350.78px;font-size:24.0px;line-height:24.0px;font-weight:normal;-webkit-text-stroke:0.35px #111;transform:scaleX(0.9728)">Levier de déverrouillage du capot</div>
<div class="t" style="left:647.74px;top:1377.68px;font-size:24.0px;line-height:24.0px;font-weight:normal;-webkit-text-stroke:0.35px #111;transform:scaleX(0.9562)">P. 275</div>
<div class="t" style="left:657.52px;top:1416.88px;font-size:24.0px;line-height:24.0px;font-weight:normal;-webkit-text-stroke:0.35px #111;transform:scaleX(0.9837)">Levier de déverrouillage de direction</div>
<div class="t" style="left:652.63px;top:1439.68px;font-size:24.0px;line-height:24.0px;font-weight:normal;-webkit-text-stroke:0.35px #111;transform:scaleX(0.9677)">à réglage d&#x27;inclinaison et de</div>
<div class="t" style="left:653.11px;top:1464.68px;font-size:24.0px;line-height:24.0px;font-weight:normal;-webkit-text-stroke:0.35px #111;transform:scaleX(0.9851)">profondeur P. 104</div>
<div class="t" style="left:790.45px;top:45.50px;font-size:43px;line-height:43px;font-weight:bold;-webkit-text-stroke:1.0px #111;transform:scaleX(0.9736)">Index illustré</div>
<div class="t" style="left:119.77px;top:152.75px;font-size:24.4px;line-height:24.4px;font-weight:bold;-webkit-text-stroke:0.5px #111;transform:scaleX(0.9284)">Panneau d&#x27;instruments (véhicules à conduite à droite)</div>
<div class="t" style="left:1022.88px;top:1587.40px;font-size:21.5px;line-height:21.5px;font-weight:bold;-webkit-text-stroke:0.5px #111;transform:scaleX(1.0236)">17</div>
<div class="t" style="left:423.00px;top:1204.18px;font-size:15.5px;line-height:15.5px;font-weight:normal;-webkit-text-stroke:0.25px #111;transform:scaleX(1.2186)">*1</div>
<div class="t" style="left:1082.1px;top:283.13px;font-size:27px;line-height:27px;transform-origin:0 0;transform:rotate(90deg) scaleX(0.9357) translateY(-22.86px)">Index illustré</div>
<div class="bx" style="left:119.3px;top:800.0px;width:27.4px;height:25.9px"></div>
<div class="bl" style="left:126.45px;top:805.77px">A</div>
<div class="bx" style="left:119.3px;top:1010.6px;width:27.4px;height:26.1px"></div>
<div class="bl" style="left:126.80px;top:1013.97px">B</div>
<div class="bx" style="left:119.3px;top:1246.2px;width:27.4px;height:25.9px"></div>
<div class="bl" style="left:127.30px;top:1251.87px">C</div>
<div class="bx" style="left:119.3px;top:1429.4px;width:27.4px;height:25.9px"></div>
<div class="bl" style="left:126.80px;top:1434.97px">D</div>
<div class="bx" style="left:616.1px;top:800.2px;width:27.9px;height:25.9px"></div>
<div class="bl" style="left:623.80px;top:805.87px">E</div>
<div class="bx" style="left:616.1px;top:954.1px;width:27.9px;height:25.5px"></div>
<div class="bl" style="left:623.80px;top:956.97px">F</div>
<div class="bx" style="left:616.1px;top:1103.6px;width:27.9px;height:26.4px"></div>
<div class="bl" style="left:624.30px;top:1108.67px">G</div>
<div class="bx" style="left:616.1px;top:1286.2px;width:27.9px;height:26.6px"></div>
<div class="bl" style="left:623.80px;top:1288.87px">H</div>
<div class="bx" style="left:616.1px;top:1351.5px;width:27.9px;height:25.9px"></div>
<div class="bl" style="left:623.40px;top:1353.87px">I</div>
<div class="bx" style="left:616.1px;top:1417.2px;width:27.9px;height:25.9px"></div>
<div class="bl" style="left:623.90px;top:1419.87px">J</div>
</body></html>
